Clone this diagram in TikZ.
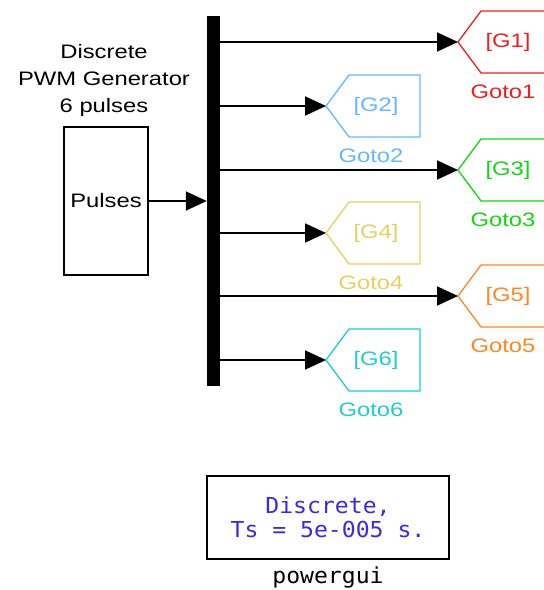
\documentclass[tikz,border=0pt]{standalone}
\usepackage{fontspec}
\setmainfont[FakeStretch=1.22]{Liberation Sans}
\newfontfamily\guifont[FakeStretch=1.05]{DejaVu Sans Mono}
\usetikzlibrary{arrows.meta,calc}

\definecolor{gred}{RGB}{240,30,30}
\definecolor{gblue}{RGB}{100,185,255}
\definecolor{ggreen}{RGB}{20,215,20}
\definecolor{ggold}{RGB}{232,208,96}
\definecolor{gorange}{RGB}{255,135,30}
\definecolor{gcyan}{RGB}{30,205,210}
\definecolor{guiblue}{RGB}{60,40,230}

% Goto block: left-pointing tag with its caption underneath
% #1 name, #2 x, #3 y of the tip, #4 colour, #5 tag, #6 caption
\newcommand\gotoblk[6]{%
  \coordinate (#1) at (#2,#3);
  \draw[draw=#4, line width=1.3pt, line join=miter]
    (#1) -- ++(23,-31) -- ++(71,0) -- ++(0,62) -- ++(-71,0) -- cycle;
  \node[lbl, text=#4] (#1tag) at ($(#1)+(50,0)$) {#5};
  \node[lbl, text=#4] (#1cap) at ($(#1)+(45,50)$) {#6};
}

\begin{document}
\begin{tikzpicture}[x=1pt,y=-1pt,
  lbl/.style={font=\fontsize{19.5}{27}\selectfont, inner sep=0pt},
  sig/.style={line width=1.8pt, -{Triangle[length=21pt,width=19pt]}},
  guitext/.style={font=\guifont\fontsize{22}{24}\selectfont, inner sep=0pt}]
\useasboundingbox (0,0) rectangle (544,590);
\fill[white] (0,0) rectangle (544,590);

% PWM generator block
\node[draw, line width=1.5pt, minimum width=84pt, minimum height=148pt,
      lbl] (pwm) at (106,201) {Pulses};
\node[lbl, align=center] (pwmtitle) at (104,80)
  {Discrete\\PWM Generator\\6 pulses};

% demux bar
\node[fill=black, minimum width=13pt, minimum height=370pt, inner sep=0pt]
  (bus) at (213.5,201) {};
\draw[sig] (pwm.east) -- (bus.west |- pwm.east);

% Goto blocks
\gotoblk{g1}{458}{42}{gred}{[G1]}{Goto1}
\gotoblk{g2}{326}{106}{gblue}{[G2]}{Goto2}
\gotoblk{g3}{458}{170}{ggreen}{[G3]}{Goto3}
\gotoblk{g4}{326}{233}{ggold}{[G4]}{Goto4}
\gotoblk{g5}{458}{296}{gorange}{[G5]}{Goto5}
\gotoblk{g6}{326}{360}{gcyan}{[G6]}{Goto6}

\foreach \g in {g1,g2,g3,g4,g5,g6}
  \draw[sig] (bus.east |- \g) -- (\g);

% powergui block
\node[draw, line width=2pt, minimum width=242pt, minimum height=83pt,
      guitext, text=guiblue, align=center] (gui) at (328,517.5)
  {Discrete,\\Ts = 5e-005 s.};
\node[guitext] (guicap) at (328,577) {powergui};
\end{tikzpicture}
\end{document}
